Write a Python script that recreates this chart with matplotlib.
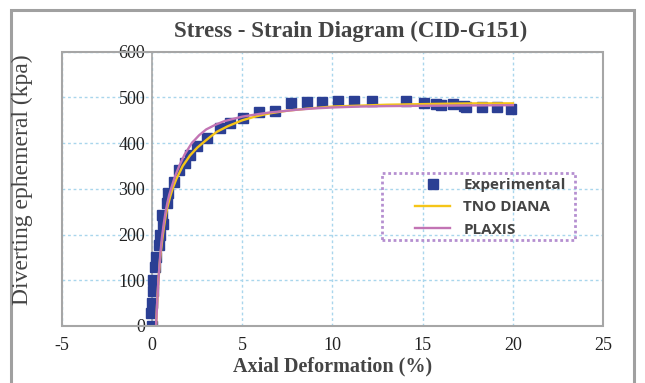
import matplotlib
matplotlib.use("Agg")
import matplotlib.pyplot as plt
from matplotlib.patches import Rectangle

plt.rcParams["axes.unicode_minus"] = False

# measured points (axial strain %, deviator stress kPa)
exp_strain = [0.0, -0.05, 0.0, 0.05, 0.07, 0.18, 0.23, 0.4, 0.45, 0.6, 0.57, 0.8, 0.9,
              1.2, 1.5, 1.8, 2.1, 2.5, 3.07, 3.75, 4.3, 5.05, 5.9, 6.8, 7.7, 8.6, 9.4,
              10.3, 11.2, 12.2, 14.1, 15.1, 15.75, 16.0, 16.7, 17.3, 17.4, 18.3, 19.1, 19.9]
exp_stress = [0, 29, 51, 77, 100, 129, 151, 176, 199, 224, 243, 268, 290,
              316, 342, 357, 375, 393, 412, 434, 443, 456, 467, 471, 487, 489, 490,
              493, 493, 492, 492, 487, 485, 483, 485, 481, 478, 478, 478, 474]

# numerical models
diana_strain = [0.22, 0.28, 0.35, 0.45, 0.55, 0.65, 0.75, 0.85, 1.0, 1.15, 1.35, 1.7,
                2.1, 2.5, 2.8, 3.2, 3.6, 4.2, 5.0, 5.8, 6.5, 7.5, 8.5, 10.0, 11.5,
                13.0, 14.5, 16.0, 18.0, 20.0]
diana_stress = [0, 50, 100, 150, 185, 215, 240, 260, 283, 302, 322, 350,
                373, 390, 400, 413, 425, 437, 450, 459, 465, 471, 475, 480, 482,
                484, 485, 486, 487, 487]
plaxis_strain = [0.22, 0.28, 0.35, 0.45, 0.55, 0.65, 0.75, 0.85, 0.95, 1.05, 1.25, 1.5,
                 1.8, 2.2, 2.6, 3.0, 3.5, 4.0, 4.5, 5.0, 5.8, 6.5, 7.3, 8.0, 9.0,
                 10.0, 11.5, 13.0, 16.0, 20.0]
plaxis_stress = [0, 50, 100, 155, 195, 225, 250, 270, 287, 300, 325, 350,
                 375, 400, 417, 430, 440, 448, 453, 458, 463, 467, 470, 473, 476,
                 478, 480, 481, 482, 483]

x_ticks = [-5, 0, 5, 10, 15, 20, 25]
y_ticks = [0, 100, 200, 300, 400, 500, 600]

FRAME = "#a6a6a6"
GRID = "#a9d6ec"
TEXT = "#444444"

fig = plt.figure(figsize=(6.45, 3.83), dpi=100)
ax = fig.add_axes([0.096, 0.149, 0.839, 0.716])

# outer border of the figure
fig.patches.append(Rectangle((11 / 645, -0.05), 623 / 645, 1.0 - 10 / 383 + 0.05,
                             transform=fig.transFigure, fill=False,
                             ec="#a0a0a0", lw=2.2, clip_on=False))

ax.set_xlim(-5, 25)
ax.set_ylim(0, 600)
ax.set_xticks(x_ticks)
ax.set_yticks(y_ticks)
ax.grid(True, color=GRID, linestyle=(0, (2, 2)), linewidth=1.0)
ax.set_axisbelow(True)

# value axis crosses at x = 0, box drawn around the plot area
for side in ("top", "right", "bottom"):
    ax.spines[side].set_visible(False)
ax.spines["left"].set_position(("data", 0))
ax.spines["left"].set_color(FRAME)
ax.spines["left"].set_linewidth(1.2)
ax.add_patch(Rectangle((0, 0), 1, 1, transform=ax.transAxes, fill=False,
                       ec=FRAME, lw=1.5, clip_on=False, zorder=5))
ax.tick_params(length=0, labelsize=13, labelcolor="#222222")
ax.tick_params(axis="x", pad=8)
ax.tick_params(axis="y", pad=5)
for lab in ax.get_xticklabels() + ax.get_yticklabels():
    lab.set_fontfamily("Liberation Serif")

ax.plot(exp_strain, exp_stress, "s", ms=7, color="#2b3f94", mec="#2b3f94",
        label="Experimental", zorder=3)
ax.plot(diana_strain, diana_stress, color="#f5c518", lw=1.7, label="TNO DIANA", zorder=4)
ax.plot(plaxis_strain, plaxis_stress, color="#c274b4", lw=1.7, label="PLAXIS", zorder=4)

# legend entries without frame, dotted box drawn separately
leg = ax.legend(loc="upper left", bbox_to_anchor=(0.6525, 0.54), frameon=False,
                borderpad=0, borderaxespad=0, handlelength=2.3, handletextpad=0.85,
                labelspacing=0.55, prop={"family": "Open Sans", "weight": "bold", "size": 11})
for t in leg.get_texts():
    t.set_color(TEXT)
ax.add_patch(Rectangle((0.591, 0.314), 0.357, 0.244, transform=ax.transAxes,
                       fill=False, ec="#b58fd0", lw=2.0, linestyle=(0, (1, 1)),
                       zorder=6))

fig.text(0.543, 0.918, "Stress - Strain Diagram (CID-G151)", ha="center", va="center",
         family="Liberation Serif", weight="bold", size=16.5, color=TEXT)
fig.text(0.516, 0.042, "Axial Deformation (%)", ha="center", va="center",
         family="Liberation Serif", weight="bold", size=14.5, color=TEXT)
fig.text(0.034, 0.53, "Diverting ephemeral (kpa)", ha="center", va="center",
         rotation=90, family="Liberation Serif", size=17, color=TEXT)

fig.savefig("out.png", dpi=100)
